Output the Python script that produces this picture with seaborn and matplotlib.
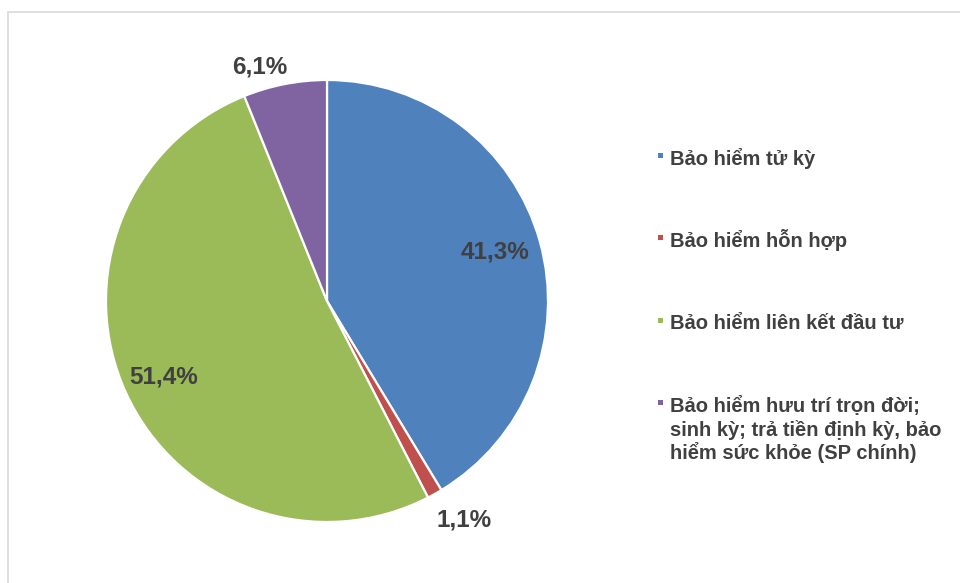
import matplotlib
matplotlib.use("Agg")
import matplotlib.pyplot as plt
from matplotlib.patches import Rectangle
import numpy as np
import seaborn as sns

# ---- data ----
categories = [
    "Bảo hiểm tử kỳ",
    "Bảo hiểm hỗn hợp",
    "Bảo hiểm liên kết đầu tư",
    "Bảo hiểm hưu trí trọn đời;\nsinh kỳ; trả tiền định kỳ, bảo\nhiểm sức khỏe (SP chính)",
]
shares = [41.3, 1.1, 51.4, 6.1]
value_labels = ["41,3%", "1,1%", "51,4%", "6,1%"]
colors_hex = ["#4F81BD", "#C0504D", "#9BBB59", "#8064A2"]

# ---- style ----
sns.set_theme(style="white")
plt.rcParams["font.family"] = ["Liberation Sans", "DejaVu Sans"]
plt.rcParams["font.weight"] = "bold"
palette = sns.color_palette(colors_hex)
text_color = "#404040"

W, H = 960, 583
fig = plt.figure(figsize=(9.6, 5.83), dpi=100)
fig.patch.set_facecolor("white")

# pie axes: center (327, 301) px from top, radius 221 px
cx, cy, R = 327, 301, 221
ax = fig.add_axes([(cx - R) / W, (H - cy - R) / H, 2 * R / W, 2 * R / H])
wedges, _ = ax.pie(shares, colors=palette, startangle=90, counterclock=False,
                   wedgeprops=dict(edgecolor="white", linewidth=1.6))
ax.set_xlim(-1, 1)
ax.set_ylim(-1, 1)
ax.set_aspect("equal")
ax.axis("off")

# label placement (radius factor, angle shift in degrees)
label_place = [(0.79, 0.6), (1.17, 2.9), (0.815, 0.3), (1.10, 5.0)]
for w, lab, (rf, dang) in zip(wedges, value_labels, label_place):
    mid = np.deg2rad((w.theta1 + w.theta2) / 2 + dang)
    ax.text(rf * np.cos(mid), rf * np.sin(mid), lab, ha="center", va="center",
            fontsize=17.5, fontweight="bold", color=text_color)

# legend (manual, marker aligned with first line)
legend_baselines = [164.8, 246.8, 329.3, 411.8]
line_step = 23.7
sq = 5.0
for lab, col, yb in zip(categories, palette, legend_baselines):
    for i, line in enumerate(lab.split("\n")):
        fig.text(670.5 / W, 1 - (yb + i * line_step) / H, line, ha="left",
                 va="baseline", fontsize=14.5, fontweight="bold",
                 color=text_color)
    fig.add_artist(Rectangle(((660.0 - sq / 2) / W, 1 - (yb - 9.0 + sq / 2) / H),
                             sq / W, sq / H, transform=fig.transFigure,
                             facecolor=col, edgecolor="none"))

# outer frame
fig.add_artist(Rectangle((8 / W, -0.05), 1.2, (H - 12) / H + 0.05,
                         transform=fig.transFigure, facecolor="none",
                         edgecolor="#D9D9D9", linewidth=1.2))

fig.savefig("out.png", dpi=100, facecolor="white")
